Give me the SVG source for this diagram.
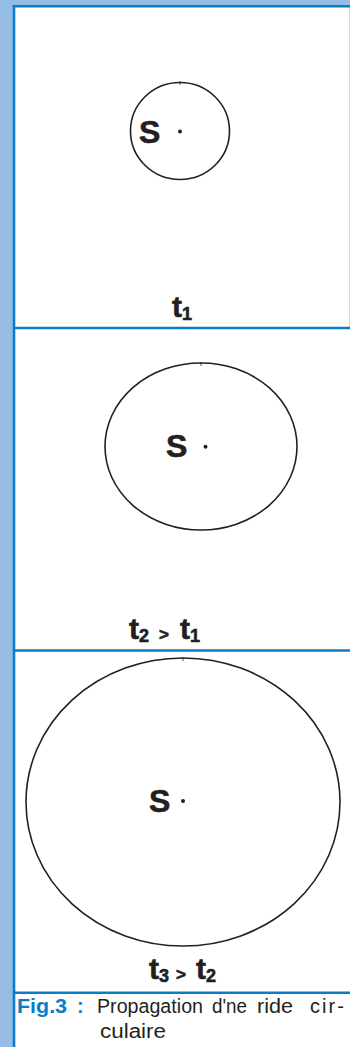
<svg xmlns="http://www.w3.org/2000/svg" width="350" height="1047" viewBox="0 0 350 1047">
<style>
.frame{stroke:#0b7dc6;stroke-width:2.6;fill:none}
.wave{stroke:#231f20;stroke-width:1.6;fill:none}
.lbl{font-family:"Liberation Sans",Arial,sans-serif;font-weight:bold;fill:#231f20;stroke:#231f20;stroke-width:0.6}
.cap{font-family:"Liberation Sans",Arial,sans-serif;font-size:20px;fill:#231f20}
.fig{font-family:"Liberation Sans",Arial,sans-serif;font-size:20px;font-weight:bold;fill:#0b7dc6}
</style>
<rect x="0" y="0" width="350" height="1047" fill="#ffffff"/>
<rect x="0" y="0" width="350" height="6" fill="#94bce5"/>
<rect x="0" y="0" width="13" height="1047" fill="#94bce5"/>
<line x1="349.5" y1="7" x2="349.5" y2="327" stroke="#d8d8d8" stroke-width="1"/>
<g id="frame">
<line class="frame" x1="12.7" y1="6.2" x2="350" y2="6.2"/>
<line class="frame" x1="14" y1="5" x2="14" y2="1047"/>
<line class="frame" x1="13" y1="328" x2="350" y2="328"/>
<line class="frame" x1="13" y1="650.5" x2="350" y2="650.5"/>
<line class="frame" x1="13" y1="992.7" x2="350" y2="992.7"/>
</g>
<g id="panel1">
<ellipse class="wave" cx="180" cy="131" rx="49.5" ry="48.5"/>
<line x1="180" y1="81" x2="180" y2="85" stroke="#231f20" stroke-width="0.8"/>
<text class="lbl" x="139" y="143" font-size="32">S</text>
<circle cx="180" cy="131.5" r="2" fill="#231f20"/>
<text class="lbl" x="172" y="317" font-size="30">t<tspan font-size="18" dy="3">1</tspan></text>
</g>
<g id="panel2">
<ellipse class="wave" cx="201" cy="446.5" rx="96" ry="83.5"/>
<line x1="201" y1="362" x2="201" y2="366" stroke="#231f20" stroke-width="0.8"/>
<text class="lbl" x="166" y="457" font-size="32">S</text>
<circle cx="205.5" cy="446.7" r="2" fill="#231f20"/>
<text class="lbl" x="129" y="639" font-size="30">t<tspan font-size="18" dy="3">2</tspan><tspan font-size="17" dy="-2" x="159">&gt;</tspan><tspan dy="-1" x="180">t</tspan><tspan font-size="18" dy="3">1</tspan></text>
</g>
<g id="panel3">
<ellipse class="wave" cx="183" cy="802" rx="157" ry="144"/>
<line x1="183" y1="657" x2="183" y2="661" stroke="#231f20" stroke-width="0.8"/>
<text class="lbl" x="149" y="812" font-size="32">S</text>
<circle cx="183" cy="801" r="2" fill="#231f20"/>
<text class="lbl" x="149" y="979" font-size="30">t<tspan font-size="18" dy="3">3</tspan><tspan font-size="17" dy="-2" x="176">&gt;</tspan><tspan dy="-1" x="196">t</tspan><tspan font-size="18" dy="3">2</tspan></text>
</g>
<g id="caption">
<text class="fig" x="17" y="1013" textLength="50" lengthAdjust="spacingAndGlyphs">Fig.3</text>
<text class="fig" x="77" y="1013">:</text>
<text class="cap" x="97" y="1013" textLength="106" lengthAdjust="spacingAndGlyphs">Propagation</text>
<text class="cap" x="212" y="1013" textLength="35" lengthAdjust="spacingAndGlyphs">d'ne</text>
<text class="cap" x="257" y="1013" textLength="36" lengthAdjust="spacingAndGlyphs">ride</text>
<text class="cap" x="310" y="1013" textLength="34" lengthAdjust="spacing">cir-</text>
<text class="cap" x="100" y="1038" textLength="66" lengthAdjust="spacingAndGlyphs">culaire</text>
</g>
</svg>
